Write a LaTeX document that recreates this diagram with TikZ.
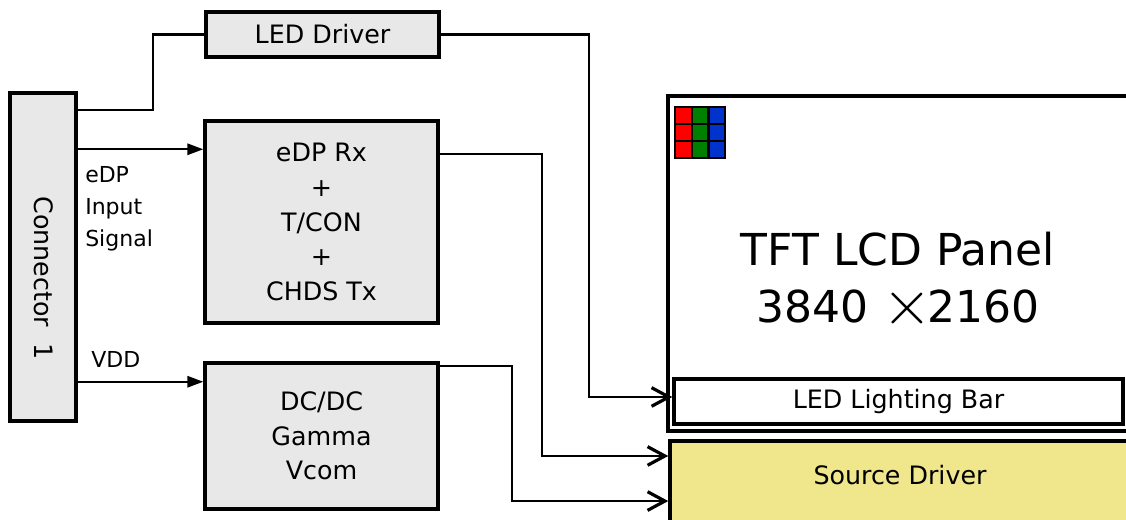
\RequirePackage{fix-cm}
\documentclass[tikz,border=0pt]{standalone}
\usepackage{fontspec}
\setmainfont{DejaVu Sans}
\usetikzlibrary{arrows.meta,positioning}
\definecolor{boxgray}{HTML}{E8E8E8}
\definecolor{khaki}{HTML}{F0E68C}
\definecolor{pixgreen}{HTML}{008000}
\definecolor{pixblue}{HTML}{0033CC}

\begin{document}
\begin{tikzpicture}[x=0.75pt,y=-0.75pt,>={Triangle[length=12pt,width=8.5pt]}]

	\tikzstyle{blk}   = [rectangle, line width=2.6pt, draw=black, fill=boxgray, inner sep=0pt, align=center, font=\fontsize{19}{26}\selectfont]
	\tikzstyle{screen} = [blk, fill=white]
	\tikzstyle{wire}  = [line width=1.6pt]
	\tikzstyle{feed}  = [wire, -{Straight Barb[length=13pt,width=14pt,line width=2.4pt]}]
	\tikzstyle{lbl}   = [inner sep=0pt, align=left, font=\fontsize{16.5}{24}\selectfont]

	\clip (0,0) rectangle (1126,519);

	% left side
	\node [blk, minimum width=49.5pt, minimum height=246pt] (conn) at (43,257) {};
	\node [inner sep=0pt, rotate=-90, font=\fontsize{19}{26}\selectfont] (conntxt) at (44,278) {Connector\ \ 1};

	\node [blk, minimum width=174.75pt, minimum height=33.75pt] (led) at (322.5,34.5) {LED Driver};
	\node [blk, minimum width=174.75pt, minimum height=151.5pt] (edp) at (321.5,222) {eDP Rx\\+\\T/CON\\+\\CHDS Tx};
	\node [blk, minimum width=174.75pt, minimum height=109.5pt] (dcdc) at (321.5,436) {DC/DC\\Gamma\\Vcom};

	% panel
	\node [screen, minimum width=354pt, minimum height=251.25pt] (panel) at (904,263.5) {};
	\node [screen, minimum width=336.75pt, minimum height=33.75pt] (bar) at (898.5,401.5) {LED Lighting Bar};
	\node [blk, fill=khaki, minimum width=352.5pt, minimum height=74.25pt] (src) at (905,490.5) {};
	\node [inner sep=0pt, font=\fontsize{19}{26}\selectfont] (srctxt) at (900,475) {Source Driver};
	\node [inner sep=0pt, align=center, font=\fontsize{33}{42.75}\selectfont] (title) at (898,278)
		{TFT LCD Panel\\3840 \smash{\raisebox{-1.5pt}{\fontsize{48}{48}\selectfont$\times$}}\hspace{-0.1em}2160};

	\foreach \c/\col in {0/red,1/pixgreen,2/pixblue}
		\foreach \r in {0,1,2}
			\draw [line width=1.8pt, fill=\col] (675+\c*16.7,107+\r*17) rectangle ++(16.7,17);

	% wires
	\draw [wire] ([yshift=-14.25pt]conn.north east) -- ++(75,0) |- (led.west);

	\coordinate (sig) at ([yshift=-43.5pt]conn.north east);
	\draw [wire,->] (sig) -- (sig -| edp.west);
	\coordinate (vdd) at ([yshift=30.75pt]conn.south east);
	\draw [wire,->] (vdd) -- (vdd -| dcdc.west);

	\node [lbl, anchor=north west] (siglbl) at (85,166) {eDP\\Input\\Signal};
	\node [lbl, anchor=south west] (vddlbl) at (91,368) {VDD};

	\draw [feed] (led.east) -- ++(148,0) |- ([yshift=3.4pt]bar.west);
	\draw [feed] ([yshift=-26.25pt]edp.north east) -- ++(102,0) |- ([yshift=25.9pt]src.west);
	\draw [feed] ([yshift=-3.75pt]dcdc.north east) -- ++(72,0) |- ([yshift=-7.9pt]src.west);

\end{tikzpicture}
\end{document}
